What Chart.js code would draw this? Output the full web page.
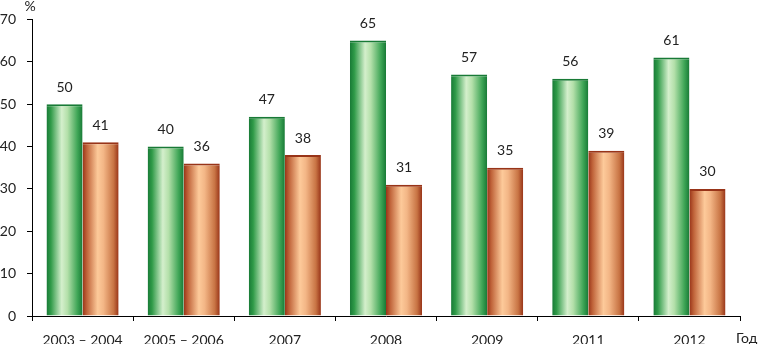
<!DOCTYPE html>
<html>
<head>
<meta charset="utf-8">
<script src="https://cdn.jsdelivr.net/npm/chart.js@4/dist/chart.umd.min.js"></script>
<style>
  html, body { margin: 0; padding: 0; background: #fff; }
  #wrap { width: 758px; height: 344px; position: relative; }
</style>
</head>
<body>
<div id="wrap"><canvas id="myChart"></canvas></div>
<script>
"use strict";

// Categories (years) and the two series.
var years = ["2003 – 2004", "2005 – 2006", "2007", "2008", "2009", "2011", "2012"];
var greenValues = [50, 40, 47, 65, 57, 56, 61];
var orangeValues = [41, 36, 38, 31, 35, 39, 30];
var yTicks = [0, 10, 20, 30, 40, 50, 60, 70];

var FONT = "Lato";
var CAT_PCT = 0.713;

var greenStops = [[0, "#187a36"], [0.12, "#2f9a48"], [0.42, "#d4efcc"], [0.58, "#b4e0aa"], [0.86, "#3ea556"], [1, "#187a36"]];
var orangeStops = [[0, "#983418"], [0.12, "#c0643a"], [0.42, "#fdca9a"], [0.58, "#f3b686"], [0.86, "#c87444"], [1, "#983418"]];

//Builds a horizontal gradient for one bar, using the x scale to find where the bar sits.
function barGradient(context, stops, side) {
    if (context.type !== "data") {
        return stops[2][1];
    }
    var chart = context.chart;
    var xScale = chart.scales.x;
    if (!xScale || !chart.chartArea) {
        return stops[2][1];
    }
    var center = xScale.getPixelForValue(context.dataIndex);
    var catW = (xScale.right - xScale.left) / years.length;
    var barW = catW * CAT_PCT / 2;
    var left = side === 0 ? center - barW : center;
    var grad = chart.ctx.createLinearGradient(left, 0, left + barW, 0);
    stops.forEach(function (s) { grad.addColorStop(s[0], s[1]); });
    return grad;
}

//Draws the values above the bars, the "%" unit and the "Год" caption.
var labelsPlugin = {
    id: "labelsPlugin",
    afterDatasetsDraw: function (chart) {
        var ctx = chart.ctx;
        ctx.save();
        ctx.fillStyle = "#222";
        ctx.font = "14px " + FONT;
        ctx.textAlign = "center";
        ctx.textBaseline = "middle";
        chart.data.datasets.forEach(function (ds, i) {
            var meta = chart.getDatasetMeta(i);
            meta.data.forEach(function (bar, j) {
                ctx.fillText(String(ds.data[j]), bar.x, bar.y - 17);
            });
        });
        var yScale = chart.scales.y;
        var xScale = chart.scales.x;
        ctx.fillText("%", yScale.right - 2, 6);
        ctx.textAlign = "left";
        ctx.fillText("Год", xScale.right - 4, 338);
        ctx.restore();
    }
};

var ctx = document.getElementById("myChart").getContext("2d");
var myChart = new Chart(ctx, {
    type: "bar",
    data: {
        labels: years,
        datasets: [{
            data: greenValues,
            backgroundColor: function (c) { return barGradient(c, greenStops, 0); },
            borderColor: "#187a36",
            borderWidth: { top: 2, left: 0, right: 0, bottom: 0 },
            borderSkipped: "bottom",
            barPercentage: 1,
            categoryPercentage: CAT_PCT
        }, {
            data: orangeValues,
            backgroundColor: function (c) { return barGradient(c, orangeStops, 1); },
            borderColor: "#983418",
            borderWidth: { top: 2, left: 0, right: 0, bottom: 0 },
            borderSkipped: "bottom",
            barPercentage: 1,
            categoryPercentage: CAT_PCT
        }]
    },
    options: {
        responsive: true,
        maintainAspectRatio: false,
        animation: false,
        layout: { padding: { top: 17, right: 18, left: 0, bottom: 0 } },
        plugins: {
            legend: { display: false },
            tooltip: { enabled: false }
        },
        scales: {
            x: {
                afterFit: function (axis) { axis.height = 28; },
                grid: { offset: true, drawOnChartArea: false, drawTicks: true, tickLength: 5, tickColor: "#000", tickWidth: 1 },
                border: { color: "#000", width: 1 },
                ticks: { color: "#222", font: { family: FONT, size: 14 }, padding: 11, maxRotation: 0, autoSkip: false }
            },
            y: {
                min: 0,
                max: 70,
                afterFit: function (axis) { axis.width = 32; },
                afterBuildTicks: function (axis) {
                    axis.ticks = yTicks.map(function (v) { return { value: v }; });
                },
                grid: { drawOnChartArea: false, drawTicks: true, tickLength: 5, tickColor: "#000", tickWidth: 1 },
                border: { color: "#000", width: 1 },
                ticks: { color: "#222", font: { family: FONT, size: 14 }, padding: 11 }
            }
        }
    },
    plugins: [labelsPlugin]
});
</script>
</body>
</html>
